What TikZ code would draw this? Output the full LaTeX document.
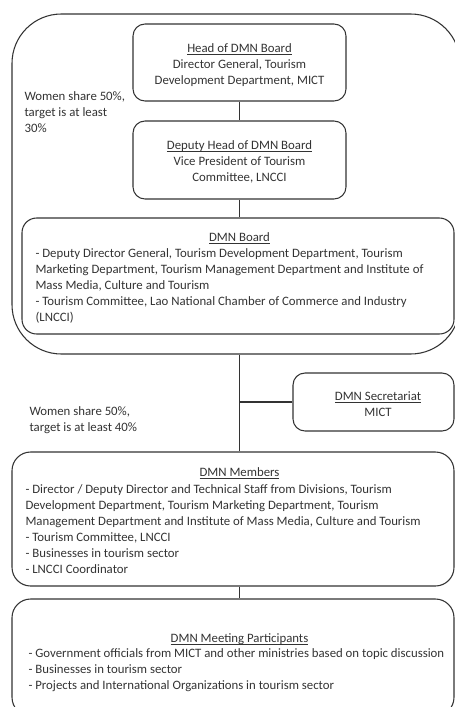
\documentclass[tikz,border=0pt]{standalone}
\usepackage{fontspec}
\setmainfont{Carlito}
\usetikzlibrary{fit}
\definecolor{ink}{HTML}{333333}
% thin underline sitting close to the baseline
\newsavebox\ulinbox
\newcommand\ulin[1]{\sbox\ulinbox{#1}\rlap{\rule[-1.6pt]{\wd\ulinbox}{0.45pt}}\usebox\ulinbox}
\begin{document}
\begin{tikzpicture}[x=0.75pt,y=-0.75pt,
  line width=0.8pt, draw=ink, color=ink,
  frame/.style={draw=ink, fit={#1}, inner sep=0pt},
  txt/.style={inner sep=0pt, text=ink, font=\fontsize{9.6}{12}\selectfont},
  ctxt/.style={txt, align=center},
  ltxt/.style={txt, align=left, anchor=west}]
\useasboundingbox (0,0) rectangle (454,707);

% outer frame around the board
\node[frame={(12,14)(460,354)}, rounded corners=37pt] (outer) {};

% boxes
\node[frame={(133,24)(346,101)}, rounded corners=9pt] (head) {};
\node[frame={(133,121)(346,199)}, rounded corners=9pt] (deputy) {};
\node[frame={(22,218)(454,334)}, rounded corners=11pt] (board) {};
\node[frame={(293,373)(454,431)}, rounded corners=9pt] (secr) {};
\node[frame={(12,452)(454,586)}, rounded corners=14pt] (members) {};
\node[frame={(12,599)(454,716)}, rounded corners=14pt] (meeting) {};

% connectors
\draw (head.south) -- (deputy.north);
\draw (deputy.south) -- (deputy.south |- board.north);
\draw (deputy.south |- outer.south) -- (deputy.south |- members.north);
\draw (secr.west) -- (secr.west -| deputy.south);
\draw (deputy.south |- members.south) -- (deputy.south |- meeting.north);

% texts
\node[ctxt] (headt) at (239.5,65) {\ulin{Head of DMN Board}\\Director General, Tourism\\Development Department, MICT};
\node[ctxt] (deputyt) at (239.5,162) {\ulin{Deputy Head of DMN Board}\\Vice President of Tourism\\Committee, LNCCI};
\node[ltxt] (note1) at (24,112) {Women share 50\%,\\target is at least\\30\%};

\node[ctxt] (boardh) at (239.5,238) {\ulin{DMN Board}};
\node[ltxt] (boardt) at (35,286) {- Deputy Director General, Tourism Development Department, Tourism\\Marketing Department, Tourism Management Department and Institute of\\Mass Media, Culture and Tourism\\- Tourism Committee, Lao National Chamber of Commerce and Industry\\(LNCCI)};

\node[ctxt] (secrt) at (378,404) {\ulin{DMN Secretariat}\\MICT};
\node[ltxt] (note2) at (29,420) {Women share 50\%,\\target is at least 40\%};

\node[ctxt] (memh) at (239.5,473) {\ulin{DMN Members}};
\node[ltxt] (memt) at (25,529) {- Director / Deputy Director and Technical Staff from Divisions, Tourism\\Development Department, Tourism Marketing Department, Tourism\\Management Department and Institute of Mass Media, Culture and Tourism\\- Tourism Committee, LNCCI\\- Businesses in tourism sector\\- LNCCI Coordinator};

\node[ctxt] (meeth) at (239.5,639) {\ulin{DMN Meeting Participants}};
\node[ltxt] (meett) at (28,670) {- Government officials from MICT and other ministries based on topic discussion\\- Businesses in tourism sector\\- Projects and International Organizations in tourism sector};
\end{tikzpicture}
\end{document}
